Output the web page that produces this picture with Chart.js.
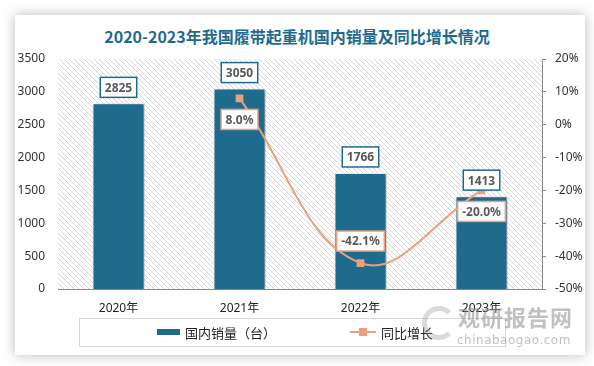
<!DOCTYPE html>
<html>
<head>
<meta charset="utf-8">
<script src="https://cdn.jsdelivr.net/npm/chart.js@4.4.1/dist/chart.umd.min.js"></script>
<style>
  html, body { margin: 0; padding: 0; background: #ffffff; }
  #wrap { position: relative; width: 594px; height: 366px; overflow: hidden; font-family: 'Noto Sans', 'Noto Sans CJK SC', sans-serif; }
  #card { position: absolute; left: 15px; top: 15px; width: 570px; height: 340px; background: #fff; box-shadow: 0 0 12px rgba(0,0,0,0.28); }
  #title { position: absolute; left: 0; top: 24px; width: 594px; text-align: center; font: bold 16px 'Noto Sans CJK SC', sans-serif; color: #1f6b8e; }
  canvas { position: absolute; left: 0; top: 0; }
  #legend { position: absolute; left: 79px; top: 318px; width: 425px; height: 27px; border: 1px solid #d9d9d9; }
  .lg { position: absolute; top: 5px; font: 13px 'Noto Sans CJK SC', sans-serif; color: #222; line-height: 17px; }
  #wm1 { position: absolute; left: 458px; top: 300px; font: bold 22px 'Noto Sans CJK SC', sans-serif; color: rgba(140,140,140,0.55); letter-spacing: 1px; }
  #wm2 { position: absolute; left: 457px; top: 333px; font: 12px 'DejaVu Sans', sans-serif; color: rgba(140,140,140,0.55); letter-spacing: 0.5px; }
  #wmlogo { position: absolute; left: 422px; top: 306px; width: 24px; height: 24px; border-radius: 50%; border: 5px solid rgba(150,150,150,0.35); border-right-color: transparent; }
</style>
</head>
<body>
<div id="wrap">
  <div id="card"></div>
  <div id="title">2020-2023年我国履带起重机国内销量及同比增长情况</div>
  <canvas id="c" width="594" height="366"></canvas>
  <div id="legend"></div>
  <div id="wmlogo"></div>
  <div id="wm1">观研报告网</div>
  <div id="wm2">chinabaogao.com</div>
</div>
<script>
// data
const years = ['2020年', '2021年', '2022年', '2023年'];
const salesName = '国内销量（台）';
const growthName = '同比增长';
const sales = [2825, 3050, 1766, 1413];
const growth = [null, 8.0, -42.1, -20.0];
const growthLabelSide = [null, 'below', 'above', 'below'];

const BLUE = '#1f6b8e';
const ORANGE = '#e9a07f';

// legend (html)
const legend = document.getElementById('legend');
legend.innerHTML =
  '<div style="position:absolute;left:77px;top:10px;width:23px;height:6px;background:' + BLUE + '"></div>' +
  '<div class="lg" style="left:105px">' + salesName + '</div>' +
  '<div style="position:absolute;left:270px;top:12px;width:26px;height:2px;background:' + ORANGE + '"></div>' +
  '<div style="position:absolute;left:279px;top:9px;width:8px;height:8px;background:' + ORANGE + '"></div>' +
  '<div class="lg" style="left:301px">' + growthName + '</div>';

function hatchPattern(ctx) {
  const p = document.createElement('canvas');
  p.width = 5; p.height = 5;
  const g = p.getContext('2d');
  g.strokeStyle = '#d6d6d6';
  g.lineWidth = 1;
  g.beginPath();
  g.moveTo(-1, -1); g.lineTo(6, 6);
  g.moveTo(-1, 4); g.lineTo(1, 6);
  g.moveTo(4, -1); g.lineTo(6, 1);
  g.stroke();
  return ctx.createPattern(p, 'repeat');
}

const bgPlugin = {
  id: 'bg',
  beforeDraw(chart) {
    const { ctx, chartArea: a } = chart;
    ctx.save();
    ctx.fillStyle = hatchPattern(ctx);
    ctx.fillRect(a.left, a.top, a.right - a.left, a.bottom - a.top);
    ctx.restore();
  },
  beforeDatasetDraw(chart, args) {
    if (args.index === 0) {
      const ctx = chart.ctx;
      ctx.save();
      ctx.shadowColor = 'rgba(0,0,0,0.35)';
      ctx.shadowBlur = 4;
      ctx.shadowOffsetX = 2;
      ctx.shadowOffsetY = 1;
    }
  },
  afterDatasetDraw(chart, args) {
    if (args.index === 0) chart.ctx.restore();
  }
};

function labelBox(ctx, text, cx, cy, border) {
  ctx.font = 'bold 12px "Noto Sans", sans-serif';
  const w = ctx.measureText(text).width + 9;
  const h = 20;
  ctx.fillStyle = '#ffffff';
  ctx.fillRect(cx - w / 2, cy - h / 2, w, h);
  ctx.strokeStyle = border;
  ctx.lineWidth = 1.5;
  ctx.strokeRect(cx - w / 2, cy - h / 2, w, h);
  ctx.fillStyle = '#595959';
  ctx.textAlign = 'center';
  ctx.textBaseline = 'middle';
  ctx.fillText(text, cx, cy + 1);
}

const labelPlugin = {
  id: 'labels',
  afterDatasetsDraw(chart) {
    const ctx = chart.ctx;
    ctx.save();
    chart.getDatasetMeta(0).data.forEach((el, i) => {
      labelBox(ctx, String(sales[i]), el.x, el.y - 16, BLUE);
    });
    chart.getDatasetMeta(1).data.forEach((el, i) => {
      if (growth[i] === null) return;
      const dy = growthLabelSide[i] === 'above' ? -22 : 21;
      labelBox(ctx, growth[i].toFixed(1) + '%', el.x, el.y + dy, ORANGE);
    });
    ctx.restore();
  }
};

Chart.defaults.font.family = '"Noto Sans", "Noto Sans CJK SC", sans-serif';
Chart.defaults.color = '#404040';

new Chart(document.getElementById('c'), {
  type: 'bar',
  data: {
    labels: years,
    datasets: [
      {
        type: 'bar', label: salesName, data: sales, yAxisID: 'y',
        backgroundColor: BLUE, borderColor: '#ffffff', borderWidth: 1,
        barPercentage: 0.43, categoryPercentage: 1, order: 2
      },
      {
        type: 'line', label: growthName, data: growth, yAxisID: 'y1',
        borderColor: ORANGE, backgroundColor: ORANGE, borderWidth: 2,
        tension: 0.4, pointStyle: 'rect', pointRadius: 5.5, pointBorderWidth: 0,
        order: 1
      }
    ]
  },
  options: {
    responsive: false, animation: false,
    layout: { padding: { top: 59, bottom: 52, left: 0, right: 0 } },
    plugins: { legend: { display: false }, tooltip: { enabled: false } },
    scales: {
      x: {
        grid: { display: false },
        border: { color: '#898989', width: 1 },
        ticks: { font: { size: 12 }, color: '#222', padding: 4 },
        afterFit(s) { s.height = 25; }
      },
      y: {
        position: 'left', min: 0, max: 3500,
        grid: { display: false, drawTicks: false },
        border: { display: false },
        ticks: { stepSize: 500, font: { size: 12 }, color: '#333', padding: 13, callback: v => String(v) },
        afterFit(s) { s.width = 58; }
      },
      y1: {
        position: 'right', min: -50, max: 20,
        grid: { drawOnChartArea: false, tickLength: 4, color: '#898989' },
        border: { color: '#898989', width: 1 },
        ticks: { stepSize: 10, font: { size: 12 }, color: '#333', padding: 9, callback: v => v + '%' },
        afterFit(s) { s.width = 52; }
      }
    }
  },
  plugins: [bgPlugin, labelPlugin]
});
</script>
</body>
</html>
